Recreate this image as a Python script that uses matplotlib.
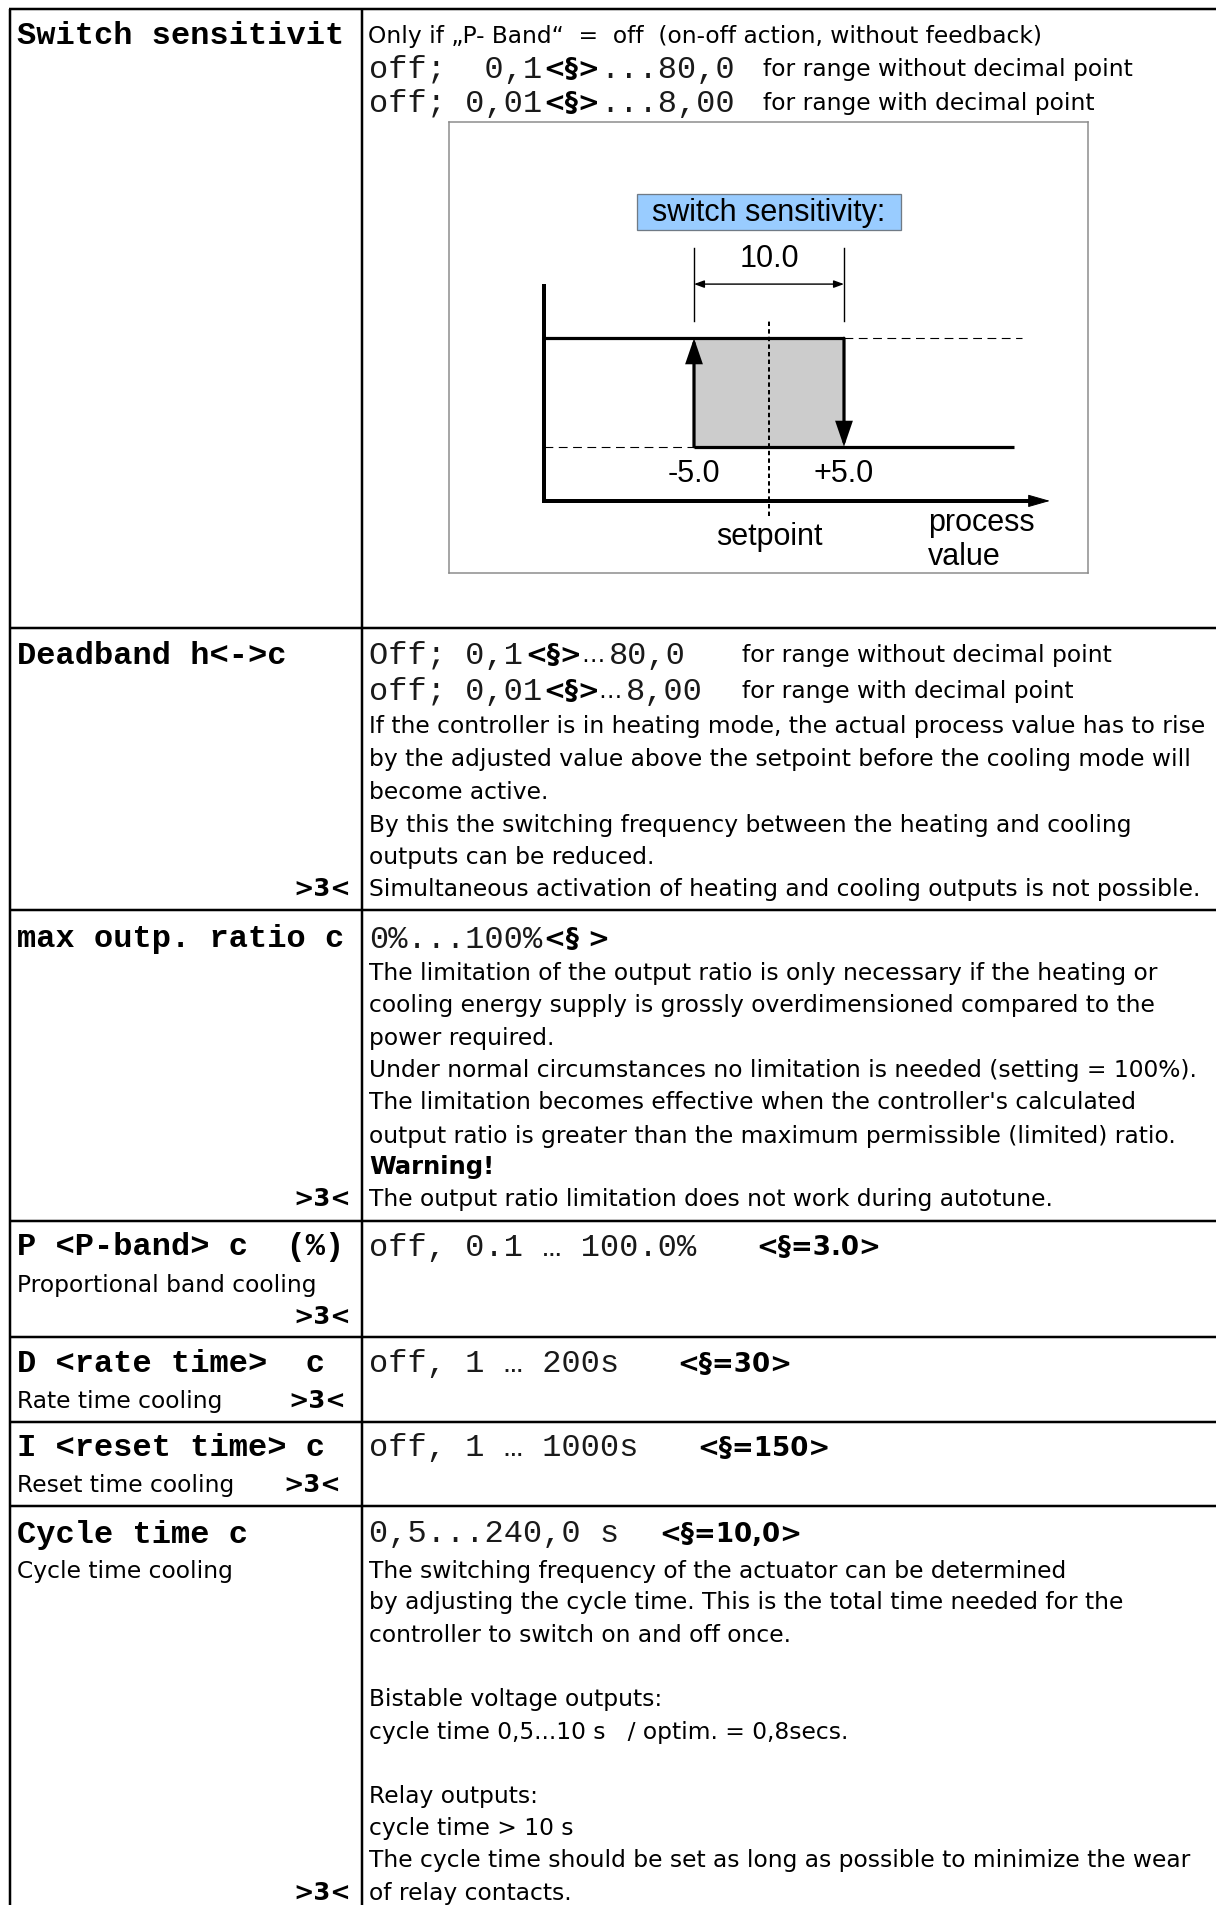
import matplotlib
matplotlib.use("Agg")
import matplotlib.pyplot as plt
from matplotlib.patches import Rectangle, FancyArrowPatch

# ---------------------------------------------------------------- content
left_labels = ["Switch sensitivit", "Deadband h<->c", "max outp. ratio c",
               "P <P-band> c  (%)", "D <rate time>  c", "I <reset time> c",
               "Cycle time c"]
left_sublabels = ["Proportional band cooling", "Rate time cooling",
                  "Reset time cooling", "Cycle time cooling"]
level_mark = ">3<"

switch_lines = [
    [("Only if \u201eP- Band\u201c  =  off  (on-off action, without feedback)", "p")],
    [("off;  0,1", "m"), ("<\u00a7>", "ps"), ("...80,0", "m"),
     ("for range without decimal point", "p")],
    [("off; 0,01", "m"), ("<\u00a7>", "ps"), ("...8,00", "m"),
     ("for range with decimal point", "p")],
]
deadband_lines = [
    [("Off; 0,1", "m"), ("<\u00a7>", "ps"), ("\u2026", "p"), ("80,0", "m"),
     ("for range without decimal point", "p")],
    [("off; 0,01", "m"), ("<\u00a7>", "ps"), ("\u2026", "p"), ("8,00", "m"),
     ("for range with decimal point", "p")],
    [("If the controller is in heating mode, the actual process value has to rise", "p")],
    [("by the adjusted value above the setpoint before the cooling mode will", "p")],
    [("become active.", "p")],
    [("By this the switching frequency between the heating and cooling", "p")],
    [("outputs can be reduced.", "p")],
    [("Simultaneous activation of heating and cooling outputs is not possible.", "p")],
]
maxratio_lines = [
    [("0%...100%", "m"), ("<\u00a7 >", "ps")],
    [("The limitation of the output ratio is only necessary if the heating or", "p")],
    [("cooling energy supply is grossly overdimensioned compared to the", "p")],
    [("power required.", "p")],
    [("Under normal circumstances no limitation is needed (setting = 100%).", "p")],
    [("The limitation becomes effective when the controller's calculated", "p")],
    [("output ratio is greater than the maximum permissible (limited) ratio.", "p")],
    [("Warning!", "pb")],
    [("The output ratio limitation does not work during autotune.", "p")],
]
pband_lines = [[("off, 0.1 \u2026 100.0%", "m"), ("<\u00a7=3.0>", "ps")]]
rate_lines = [[("off, 1 \u2026 200s", "m"), ("<\u00a7=30>", "ps")]]
reset_lines = [[("off, 1 \u2026 1000s", "m"), ("<\u00a7=150>", "ps")]]
cycle_lines = [
    [("0,5...240,0 s", "m"), ("<\u00a7=10,0>", "ps")],
    [("The switching frequency of the actuator can be determined", "p")],
    [("by adjusting the cycle time. This is the total time needed for the", "p")],
    [("controller to switch on and off once.", "p")],
    [("Bistable voltage outputs:", "p")],
    [("cycle time 0,5...10 s   / optim. = 0,8secs.", "p")],
    [("Relay outputs:", "p")],
    [("cycle time > 10 s", "p")],
    [("The cycle time should be set as long as possible to minimize the wear", "p")],
    [("of relay contacts.", "p")],
]

# diagram values
setpoint = 0.0
switch_sensitivity = 10.0
switch_low = -5.0
switch_high = 5.0
out_off, out_on = 0, 1
diag_title = "switch sensitivity:"
diag_xlabel = ["process", "value"]

# ---------------------------------------------------------------- layout
W, H, DPI = 1216, 1905, 100
PX = 72.0 / DPI
row_lines_y = [8.5, 628, 910, 1221, 1337, 1422, 1506]
col_x = [9.5, 361.5]

switch_y = [35, 68, 102]
switch_x = [[368], [369, 543, 600, 763], [369, 543, 600, 763]]
dead_y = [654, 690, 725, 758, 791, 824, 856, 888]
dead_x = [[369, 525, 581, 609, 742], [369, 543, 598, 626, 742]] + [[369]] * 6
max_y = [938, 972, 1004, 1037, 1069, 1101, 1135, 1166, 1198]
max_x = [[369, 544]] + [[369]] * 8
pband_y, pband_x = [1246], [[369, 756]]
rate_y, rate_x = [1363], [[369, 677]]
reset_y, reset_x = [1447], [[369, 697]]
cycle_y = [1533, 1570, 1601, 1634, 1698, 1731, 1795, 1827, 1859, 1892]
cycle_x = [[369, 659]] + [[369]] * 9

left_label_y = [35, 654, 938, 1246, 1363, 1447, 1533]
sublabel_y = [1284, 1400, 1484, 1570]
mark_pos = [(351, 888), (351, 1198), (351, 1316), (346, 1400), (341, 1484), (351, 1892)]

fig = plt.figure(figsize=(W / DPI, H / DPI), dpi=DPI)
fig.patch.set_facecolor("white")
ax = fig.add_axes([0, 0, 1, 1])
ax.set_xlim(0, W)
ax.set_ylim(H, 0)
ax.axis("off")
renderer = fig.canvas.get_renderer()

PROP = "DejaVu Sans"
MONO = "Liberation Mono"


def fit_size(s, family, weight, target):
    t = ax.text(0, 0, s, fontsize=20, family=family, weight=weight)
    w = t.get_window_extent(renderer).width
    t.remove()
    return 20 * target / w


prop_size = fit_size(deadband_lines[2][0][0], PROP, "normal", 835)
mono_size = 19.2 / 0.6 * PX
# family, weight, size, baseline offset from line centre, colour
styles = {"p": (PROP, "normal", prop_size, 8, "black"),
          "pb": (PROP, "bold", prop_size * 1.04, 8, "black"),
          "ps": (PROP, "bold", prop_size * 1.12, 9, "black"),
          "m": (MONO, "normal", mono_size, 9.5, "#1a1a1a"),
          "mb": (MONO, "bold", mono_size, 9.5, "black")}


def put(x, yc, s, st, ha="left"):
    fam, wt, sz, off, col = styles[st]
    ax.text(x, yc + off, s, family=fam, weight=wt, fontsize=sz, ha=ha,
            va="baseline", color=col)


def block(lines, ys, xs):
    for segs, y, xl in zip(lines, ys, xs):
        for (s, st), x in zip(segs, xl):
            put(x, y, s, st)


# table rules
LW = 2.5 * PX
for y in row_lines_y:
    ax.plot([col_x[0] - 1, W], [y, y], color="black", lw=LW, solid_capstyle="butt")
for x in col_x:
    ax.plot([x, x], [row_lines_y[0], H], color="black", lw=LW, solid_capstyle="butt")

# left column
for s, y in zip(left_labels, left_label_y):
    put(17, y, s, "mb")
for s, y in zip(left_sublabels, sublabel_y):
    put(17, y, s, "p")
for x, y in mark_pos:
    put(x, y, level_mark, "pb", ha="right")

# right column
block(switch_lines, switch_y, switch_x)
block(deadband_lines, dead_y, dead_x)
block(maxratio_lines, max_y, max_x)
block(pband_lines, pband_y, pband_x)
block(rate_lines, rate_y, rate_x)
block(reset_lines, reset_y, reset_x)
block(cycle_lines, cycle_y, cycle_x)

# ---------------------------------------------------------------- diagram
bx0, by0, bx1, by1 = 449, 122, 1088, 573
sp_px, ux = 769, 15.0          # setpoint pixel, px per unit
off_px, uy = 446.7, 108.4      # off-level pixel, px per level
dax = fig.add_axes([bx0 / W, 1 - by1 / H, (bx1 - bx0) / W, (by1 - by0) / H])
dax.set_xlim((bx0 - sp_px) / ux, (bx1 - sp_px) / ux)
dax.set_ylim((off_px - by1) / uy, (off_px - by0) / uy)
dax.set_xticks([])
dax.set_yticks([])
for sp in dax.spines.values():
    sp.set_color("#8a8a8a")
    sp.set_linewidth(1.5 * PX)
dax.set_facecolor("white")

y_axis_x = -15.0
x_axis_y = -0.5
y_axis_top = 1.5
x_axis_end = 18.73
upper_dash_end = 16.9
lower_line_end = 16.33
tick_lo, tick_hi = 1.16, 1.83
dim_y = 1.5
sp_lo, sp_hi = -0.64, 1.16

dax.add_patch(Rectangle((switch_low, out_off), switch_high - switch_low, out_on - out_off,
                        facecolor="#cccccc", edgecolor="none", zorder=1))
thick = 3.2 * PX
dax.plot([y_axis_x, switch_high], [out_on, out_on], color="black", lw=thick, zorder=3,
         solid_capstyle="butt")
dax.plot([switch_low, lower_line_end], [out_off, out_off], color="black", lw=thick, zorder=3,
         solid_capstyle="butt")
dax.plot([switch_high, upper_dash_end], [out_on, out_on], color="black", lw=1.1 * PX,
         ls=(0, (8, 5)), zorder=2)
dax.plot([y_axis_x, switch_low], [out_off, out_off], color="black", lw=1.1 * PX,
         ls=(0, (8, 5)), zorder=2)
dax.plot([y_axis_x, y_axis_x, x_axis_end - 1.2], [y_axis_top, x_axis_y, x_axis_y],
         color="black", lw=4 * PX, zorder=3, solid_joinstyle="miter", solid_capstyle="butt")
dax.add_patch(FancyArrowPatch((x_axis_end - 2.0, x_axis_y), (x_axis_end, x_axis_y),
                              arrowstyle="-|>,head_length=14,head_width=4",
                              mutation_scale=1, lw=1 * PX, color="black", zorder=4,
                              shrinkA=0, shrinkB=0))
dax.add_patch(FancyArrowPatch((switch_low, out_off), (switch_low, out_on),
                              arrowstyle="-|>,head_length=14,head_width=4.8",
                              mutation_scale=1, lw=thick, color="black", zorder=4,
                              shrinkA=0, shrinkB=0, joinstyle="miter"))
dax.add_patch(FancyArrowPatch((switch_high, out_on), (switch_high, out_off),
                              arrowstyle="-|>,head_length=14,head_width=4.8",
                              mutation_scale=1, lw=thick, color="black", zorder=4,
                              shrinkA=0, shrinkB=0, joinstyle="miter"))
for xv in (switch_low, switch_high):
    dax.plot([xv, xv], [tick_lo, tick_hi], color="black", lw=1.4 * PX, zorder=3)
dax.add_patch(FancyArrowPatch((switch_low, dim_y), (switch_high, dim_y),
                              arrowstyle="<|-|>,head_length=6,head_width=2.2",
                              mutation_scale=1, lw=1.4 * PX, color="black", zorder=4,
                              shrinkA=0, shrinkB=0))
dax.plot([setpoint, setpoint], [sp_lo, sp_hi], color="black", lw=2 * PX,
         ls=(0, (2.2, 1.6)), zorder=5)

dax.add_patch(Rectangle((-8.8, 2.0), 17.6, 0.33, facecolor="#99ccff",
                        edgecolor="#707a85", lw=1.3 * PX, zorder=2))
DFONT = "Liberation Sans"
dsz = 22
dax.text(setpoint, 2.08, diag_title, family=DFONT, fontsize=dsz, ha="center",
         va="baseline", zorder=6)
dax.text(setpoint, 1.66, f"{switch_sensitivity:.1f}", family=DFONT, fontsize=dsz,
         ha="center", va="baseline")
dax.text(switch_low, -0.326, f"{switch_low:.1f}", family=DFONT, fontsize=dsz,
         ha="center", va="baseline")
dax.text(switch_high, -0.326, f"+{switch_high:.1f}", family=DFONT, fontsize=dsz,
         ha="center", va="baseline")
dax.text(setpoint, -0.907, "setpoint", family=DFONT, fontsize=dsz, ha="center",
         va="baseline")
dax.text(10.6, -0.775, diag_xlabel[0], family=DFONT, fontsize=dsz, ha="left",
         va="baseline")
dax.text(10.6, -1.09, diag_xlabel[1], family=DFONT, fontsize=dsz, ha="left",
         va="baseline")

fig.savefig("out.png", dpi=DPI, facecolor="white")
